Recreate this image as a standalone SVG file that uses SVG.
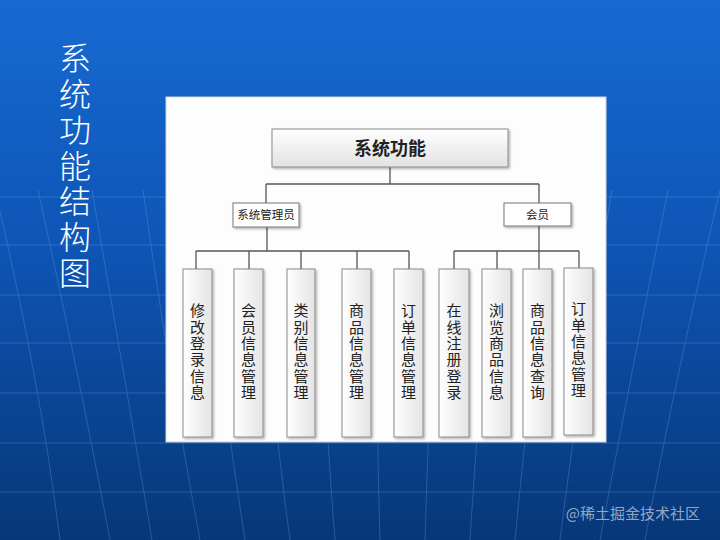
<svg xmlns="http://www.w3.org/2000/svg" width="720" height="540" viewBox="0 0 720 540">
<defs>
<linearGradient id="bg" x1="0" y1="0" x2="0" y2="1">
<stop offset="0" stop-color="#176ad2"/>
<stop offset="0.45" stop-color="#0e55b6"/>
<stop offset="1" stop-color="#073777"/>
</linearGradient>
<linearGradient id="fade" x1="0" y1="0" x2="0" y2="1">
<stop offset="0" stop-color="#fff" stop-opacity="0"/>
<stop offset="0.35" stop-color="#fff" stop-opacity="1"/>
<stop offset="1" stop-color="#fff" stop-opacity="1"/>
</linearGradient>
<mask id="m"><rect x="0" y="0" width="720" height="540" fill="url(#fade)"/></mask>
<linearGradient id="box" x1="0" y1="0" x2="1" y2="0">
<stop offset="0" stop-color="#ffffff"/>
<stop offset="1" stop-color="#e4e4e4"/>
</linearGradient>
<linearGradient id="topbox" x1="0" y1="0" x2="0" y2="1">
<stop offset="0" stop-color="#ffffff"/>
<stop offset="1" stop-color="#e2e2e2"/>
</linearGradient>
<filter id="sh" x="-20%" y="-20%" width="140%" height="140%">
<feDropShadow dx="1.5" dy="1.5" stdDeviation="1" flood-color="#000" flood-opacity="0.3"/>
</filter>
</defs>
<style>
.grid{stroke:#6fa8ec;stroke-width:1;fill:none;opacity:0.3}
.leaf{fill:url(#box);stroke:#8a8a8a;stroke-width:1;filter:url(#sh)}
.mid{fill:#ffffff;stroke:#777;stroke-width:1;filter:url(#sh)}
.lbl{font-family:"Noto Sans CJK SC","Noto Sans",sans-serif;font-size:15px;fill:#222;writing-mode:vertical-rl;letter-spacing:1.4px}
.small{font-family:"Noto Sans CJK SC","Noto Sans",sans-serif;font-size:11.5px;fill:#222;text-anchor:middle}
.conn line{stroke:#555;stroke-width:1.3}
</style>
<rect x="0" y="0" width="720" height="540" fill="url(#bg)"/>
<g mask="url(#m)" class="grid">
<line x1="0" y1="197" x2="720" y2="197"/>
<line x1="0" y1="245" x2="720" y2="245"/>
<line x1="0" y1="295" x2="720" y2="295"/>
<line x1="0" y1="343" x2="720" y2="343"/>
<line x1="0" y1="393" x2="720" y2="393"/>
<line x1="0" y1="443" x2="720" y2="443"/>
<line x1="0" y1="492" x2="720" y2="492"/>
<path d="M-5,190 Q40,380 60,540"/>
<path d="M38,190 Q80,380 110,540"/>
<path d="M92,190 Q125,380 152,540"/>
<path d="M143,190 Q170,380 200,540"/>
<path d="M200,190 Q220,380 245,540"/>
<path d="M258,190 Q268,380 290,540"/>
<path d="M318,190 Q322,380 335,540"/>
<path d="M378,190 Q375,380 380,540"/>
<path d="M438,190 Q430,380 425,540"/>
<path d="M498,190 Q480,380 470,540"/>
<path d="M556,190 Q530,380 515,540"/>
<path d="M612,190 Q580,380 560,540"/>
<path d="M668,190 Q630,380 600,540"/>
<path d="M720,190 Q675,380 645,540"/>
</g>
<g id="title">
<text x="75" y="42" font-family="'Noto Sans CJK SC','Noto Sans',sans-serif" font-size="32" font-weight="300" fill="#ffffff" style="writing-mode:vertical-rl;letter-spacing:3.8px">系统功能结构图</text>
</g>
<g id="panel">
<rect x="166" y="97" width="440" height="345" fill="#fdfdfd" stroke="#cfd6e0" stroke-width="1"/>
</g>
<g class="conn" id="connectors">
<line x1="390" y1="167" x2="390" y2="184"/>
<line x1="266" y1="184" x2="539" y2="184"/>
<line x1="266" y1="184" x2="266" y2="203"/>
<line x1="539" y1="184" x2="539" y2="203"/>
<line x1="267" y1="227" x2="267" y2="251"/>
<line x1="196" y1="251" x2="409" y2="251"/>
<line x1="196" y1="251" x2="196" y2="269"/>
<line x1="249" y1="251" x2="249" y2="269"/>
<line x1="301" y1="251" x2="301" y2="269"/>
<line x1="357" y1="251" x2="357" y2="269"/>
<line x1="409" y1="251" x2="409" y2="269"/>
<line x1="539" y1="226" x2="539" y2="251"/>
<line x1="454" y1="251" x2="579" y2="251"/>
<line x1="454" y1="251" x2="454" y2="269"/>
<line x1="497" y1="251" x2="497" y2="269"/>
<line x1="539" y1="251" x2="539" y2="269"/>
<line x1="579" y1="251" x2="579" y2="268"/>
</g>
<g id="root">
<rect x="272" y="129" width="236" height="38" fill="url(#topbox)" stroke="#8a8a8a" stroke-width="1" filter="url(#sh)"/>
<text x="390" y="155" font-family="'Noto Sans CJK SC','Noto Sans',sans-serif" font-size="18" font-weight="bold" fill="#222" text-anchor="middle">系统功能</text>
</g>
<g id="admin">
<rect class="mid" x="233" y="203" width="66" height="24"/>
<text class="small" x="266" y="219">系统管理员</text>
</g>
<g id="member">
<rect class="mid" x="504" y="203" width="67" height="23"/>
<text class="small" x="537.5" y="219">会员</text>
</g>
<g id="n1">
<rect class="leaf" x="183" y="269" width="29" height="168"/>
<text class="lbl" x="197.5" y="303">修改登录信息</text>
</g>
<g id="n2">
<rect class="leaf" x="234" y="269" width="29" height="168"/>
<text class="lbl" x="248.5" y="303">会员信息管理</text>
</g>
<g id="n3">
<rect class="leaf" x="287" y="269" width="28" height="168"/>
<text class="lbl" x="301" y="303">类别信息管理</text>
</g>
<g id="n4">
<rect class="leaf" x="342" y="269" width="29" height="168"/>
<text class="lbl" x="356.5" y="303">商品信息管理</text>
</g>
<g id="n5">
<rect class="leaf" x="394" y="269" width="29" height="168"/>
<text class="lbl" x="408.5" y="303">订单信息管理</text>
</g>
<g id="n6">
<rect class="leaf" x="439" y="269" width="30" height="168"/>
<text class="lbl" x="454" y="303">在线注册登录</text>
</g>
<g id="n7">
<rect class="leaf" x="482" y="269" width="29" height="168"/>
<text class="lbl" x="496.5" y="303">浏览商品信息</text>
</g>
<g id="n8">
<rect class="leaf" x="523" y="269" width="29" height="168"/>
<text class="lbl" x="537.5" y="303">商品信息查询</text>
</g>
<g id="n9">
<rect class="leaf" x="564" y="268" width="29" height="167"/>
<text class="lbl" x="578.5" y="301">订单信息管理</text>
</g>
<g id="watermark">
<text x="700" y="519" font-family="'Noto Sans CJK SC','Noto Sans',sans-serif" font-size="15" fill="#b9c6da" fill-opacity="0.8" text-anchor="end">@稀土掘金技术社区</text>
</g>
</svg>
